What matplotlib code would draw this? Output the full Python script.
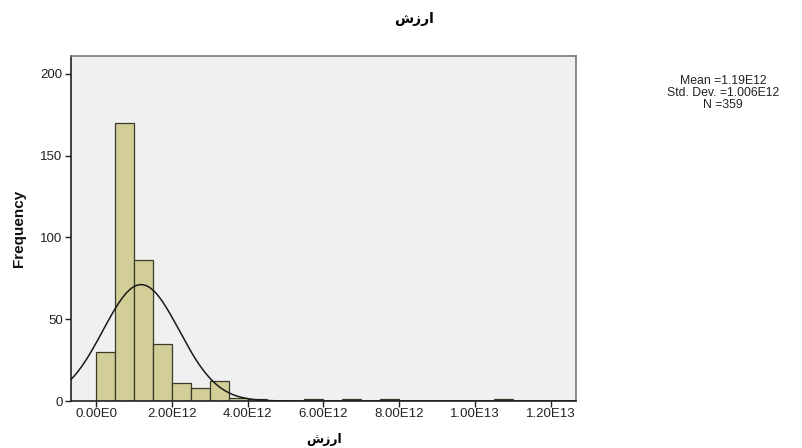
import numpy as np
import matplotlib
matplotlib.use("Agg")
import matplotlib.pyplot as plt
from matplotlib.ticker import FixedLocator, FixedFormatter

# ---- data ----
title_text = "ارزش"
bin_width = 0.5e12
bin_left = [0.0e12, 0.5e12, 1.0e12, 1.5e12, 2.0e12, 2.5e12, 3.0e12, 3.5e12,
            4.0e12, 5.5e12, 6.5e12, 7.5e12, 10.5e12]
counts = [30, 170, 86, 35, 11, 8, 12, 2, 1, 1, 1, 1, 1]
mean_val = 1.19e12
std_val = 1.006e12
n_val = 359
x_ticks = [0, 2e12, 4e12, 6e12, 8e12, 1e13, 1.2e13]
x_tick_labels = ["0.00E0", "2.00E12", "4.00E12", "6.00E12", "8.00E12", "1.00E13", "1.20E13"]
y_ticks = [0, 50, 100, 150, 200]
y_tick_labels = ["0", "50", "100", "150", "200"]

def rtl(s):
    # matplotlib has no bidi support; reverse for right-to-left display
    return s[::-1]

plt.rcParams['font.family'] = ['Liberation Sans', 'DejaVu Sans']

fig = plt.figure(figsize=(8.03, 4.48), dpi=100)
ax = fig.add_axes([71/803, 47/448, 505/803, 345/448])
ax.set_facecolor("#f0f0f0")

ax.bar(bin_left, counts, width=bin_width, align='edge',
       color="#d3ce97", edgecolor="#3a3a2a", linewidth=0.9, zorder=2)

xlim = (-0.66e12, 12.668e12)
xs = np.linspace(xlim[0], xlim[1], 600)
ys = n_val * bin_width / (std_val * np.sqrt(2*np.pi)) * np.exp(-0.5*((xs-mean_val)/std_val)**2)
ax.plot(xs, ys, color="#1a1a1a", linewidth=1.1, zorder=3)

ax.set_xlim(*xlim)
ax.set_ylim(0, 211)

ax.xaxis.set_major_locator(FixedLocator(x_ticks))
ax.xaxis.set_major_formatter(FixedFormatter(x_tick_labels))
ax.yaxis.set_major_locator(FixedLocator(y_ticks))
ax.yaxis.set_major_formatter(FixedFormatter(y_tick_labels))
ax.tick_params(axis='both', direction='out', length=4, width=1, color="#222222",
               labelsize=9.5, pad=2, labelcolor="#222222")
ax.tick_params(axis='x', pad=1)

for side in ['left', 'bottom']:
    ax.spines[side].set_color("#222222")
    ax.spines[side].set_linewidth(1.2)
for side in ['top', 'right']:
    ax.spines[side].set_color("#777777")
    ax.spines[side].set_linewidth(1.2)

fig.text(19/803, 1 - 228/448, "Frequency", rotation=90, ha='center', va='center',
         fontsize=11, fontweight='bold', color="#111111")

fig.text(414/803, 1 - 19/448, rtl(title_text), ha='center', va='center',
         fontsize=10, fontweight='bold', family=['DejaVu Sans'])
fig.text(324/803, 1 - 439/448, rtl(title_text), ha='center', va='center',
         fontsize=9, fontweight='bold', family=['DejaVu Sans'])

stat_lines = ["Mean =%.2fE12" % (mean_val/1e12),
              "Std. Dev. =%.3fE12" % (std_val/1e12),
              "N =%d" % n_val]
for i, line in enumerate(stat_lines):
    fig.text(723/803, 1 - (81.5 + 11.5*i)/448, line, ha='center', va='center',
             fontsize=8.8, color="#222222")

fig.savefig("out.png", dpi=100)
